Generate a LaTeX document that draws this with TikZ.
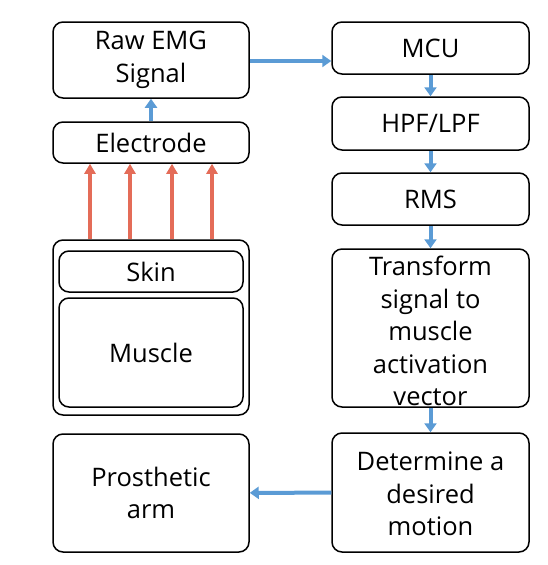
\documentclass[tikz,border=0pt]{standalone}
\usepackage{fontspec}
\setmainfont{Open Sans}
\usetikzlibrary{arrows.meta}
\definecolor{flowblue}{RGB}{91,155,213}
\definecolor{signalred}{RGB}{228,108,88}
\tikzset{
  box/.style={draw, rounded corners=10pt, line width=1.5pt, inner sep=0pt, align=center},
  label text/.style={align=center, font=\fontsize{25.5}{32.5}\selectfont},
  flow/.style={draw=flowblue, line width=4pt, -{Triangle[length=9pt,width=12pt]}},
  signal/.style={draw=signalred, line width=4pt, -{Triangle[length=10pt,width=11pt]}}
}
\begin{document}
\begin{tikzpicture}[x=1pt, y=-1pt]
      \useasboundingbox (0,0) rectangle (547,565);

      % left column
      \node[box, minimum width=196pt, minimum height=76pt] (raw) at (151,60) {};
      \node[label text] (rawtext) at (151,60) {Raw EMG\\Signal};
      \node[box, minimum width=196pt, minimum height=41pt] (electrode) at (151,142.5) {};
      \node[label text] (electrodetext) at (151,142.5) {Electrode};
      \node[box, minimum width=196pt, minimum height=175pt] (body) at (151,327.5) {};
      \node[box, minimum width=184pt, minimum height=41pt] (skin) at (151,271.5) {};
      \node[label text] (skintext) at (151,271.5) {Skin};
      \node[box, minimum width=184pt, minimum height=109pt] (muscle) at (151,352.5) {};
      \node[label text] (muscletext) at (151,352.5) {Muscle};
      \node[box, minimum width=196pt, minimum height=118pt] (arm) at (151,493) {};
      \node[label text] (armtext) at (151,493) {Prosthetic\\arm};

      % right column
      \node[box, minimum width=197pt, minimum height=52pt] (mcu) at (430.5,48) {};
      \node[label text] (mcutext) at (430.5,48) {MCU};
      \node[box, minimum width=197pt, minimum height=53pt] (filter) at (430.5,123.5) {};
      \node[label text] (filtertext) at (430.5,123.5) {HPF/LPF};
      \node[box, minimum width=197pt, minimum height=52pt] (rms) at (430.5,199) {};
      \node[label text] (rmstext) at (430.5,199) {RMS};
      \node[box, minimum width=197pt, minimum height=158pt] (transform) at (430.5,328) {};
      \node[label text] (transformtext) at (430.5,331) {Transform\\signal to\\muscle\\activation\\vector};
      \node[box, minimum width=197pt, minimum height=119pt] (motion) at (430.5,492.5) {};
      \node[label text] (motiontext) at (430.5,494) {Determine a\\desired\\motion};

      % signal from the muscle to the electrode
      \foreach \dx in {-61,-21,21,61}
        \draw[signal] ([xshift=\dx pt]body.north) -- ([xshift=\dx pt]electrode.south);

      \draw[flow] (electrode) -- (raw);
      \draw[flow] ([yshift=-1pt]raw.east) -- ([yshift=-1pt]raw.east -| mcu.west);
      \draw[flow] (mcu) -- (filter);
      \draw[flow] (filter) -- (rms);
      \draw[flow] (rms) -- (transform);
      \draw[flow] (transform) -- (motion);
      \draw[flow] (motion) -- (arm);
    \end{tikzpicture}
\end{document}
